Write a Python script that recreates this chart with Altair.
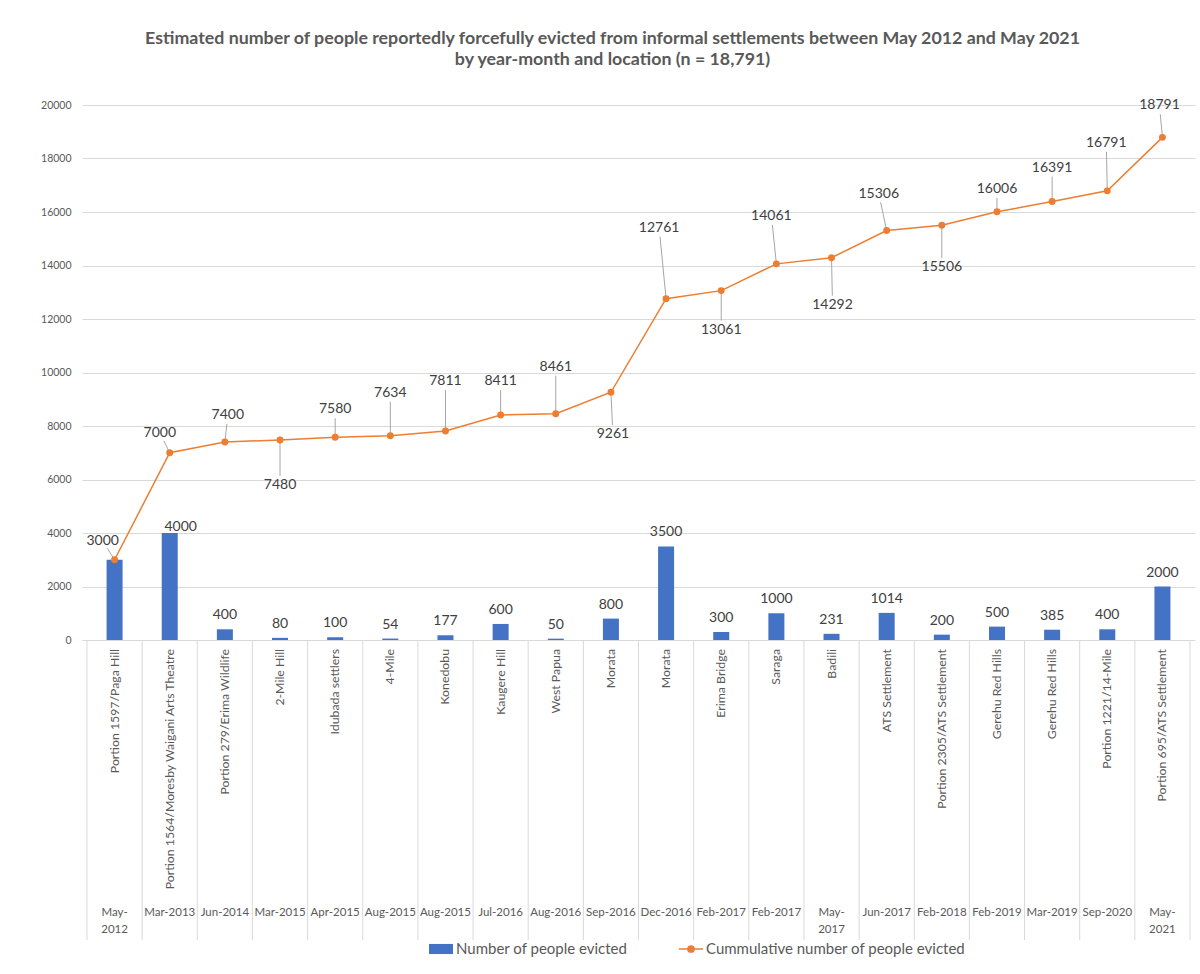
import altair as alt
import pandas as pd

# ---------------- data ----------------
locations = [
    "Portion 1597/Paga Hill", "Portion 1564/Moresby Waigani Arts Theatre",
    "Portion 279/Erima Wildlife", "2-Mile Hill", "Idubada settlers", "4-Mile",
    "Konedobu", "Kaugere Hill", "West Papua", "Morata", "Morata", "Erima Bridge",
    "Saraga", "Badili", "ATS Settlement", "Portion 2305/ATS Settlement",
    "Gerehu Red Hills", "Gerehu Red Hills", "Portion 1221/14-Mile",
    "Portion 695/ATS Settlement",
]
dates = [
    "May-2012", "Mar-2013", "Jun-2014", "Mar-2015", "Apr-2015", "Aug-2015",
    "Aug-2015", "Jul-2016", "Aug-2016", "Sep-2016", "Dec-2016", "Feb-2017",
    "Feb-2017", "May-2017", "Jun-2017", "Feb-2018", "Feb-2019", "Mar-2019",
    "Sep-2020", "May-2021",
]
evicted = [3000, 4000, 400, 80, 100, 54, 177, 600, 50, 800, 3500, 300, 1000,
           231, 1014, 200, 500, 385, 400, 2000]
cumulative = [3000, 7000, 7400, 7480, 7580, 7634, 7811, 8411, 8461, 9261,
              12761, 13061, 14061, 14292, 15306, 15506, 16006, 16391, 16791,
              18791]
y_ticks = [0, 2000, 4000, 6000, 8000, 10000, 12000, 14000, 16000, 18000, 20000]

series_bar = "Number of people evicted"
series_line = "Cummulative number of people evicted"
title_lines = [
    "Estimated number of people reportedly forcefully evicted from informal settlements between May 2012 and May 2021",
    "by year-month and location (n = 18,791)",
]

# ---------------- layout / style ----------------
W, H = 1113, 535
BLUE, ORANGE = "#4472C4", "#ED7D31"
GRID, TXT, LBL = "#D9D9D9", "#595959", "#404040"
FONT = "Lato"
# pixel offsets of the cumulative data labels from their points
cum_label_dx = [-12, -10, 3, 0, 0, 0, 0, 0, 0, 2, -7, 0, -5, 1, -8, 0, 0, 0, -1, -3]
cum_label_dy = [-19, -20, -27, 45, -28, -43, -50, -34, -47, 42, -71, 39, -48, 47,
                -37, 42, -23, -34, -48, -32]
bar_label_dx = [0, 11] + [0] * 18
bar_label_dy = [0, 8] + [0] * 18
wrapped_dates = {0, 13, 19}

px_x = W / 20.0          # pixels per category
px_y = H / 20000.0       # pixels per person

rows = []
for i in range(len(locations)):
    lx = i + cum_label_dx[i] / px_x
    ly = cumulative[i] - cum_label_dy[i] / px_y
    dist = (cum_label_dx[i] ** 2 + cum_label_dy[i] ** 2) ** 0.5
    frac = max(0.0, 1 - 9.0 / dist) if dist > 0 else 0
    rows.append({
        "pos": i,
        "location": locations[i],
        "date": dates[i].replace("-", "-\n") if i in wrapped_dates else dates[i],
        "evicted": evicted[i],
        "cumulative": cumulative[i],
        "label_x": lx,
        "label_y": ly,
        "lead_x": i + (lx - i) * frac,
        "lead_y": cumulative[i] + (ly - cumulative[i]) * frac,
        "bar_lx": i + bar_label_dx[i] / px_x,
        "bar_ly": evicted[i] - bar_label_dy[i] / px_y,
        "s_bar": series_bar,
        "s_line": series_line,
    })
df = pd.DataFrame(rows)
sep = pd.DataFrame({"edge": [i - 0.5 for i in range(len(locations) + 1)]})

xs = alt.Scale(domain=[-0.5, len(locations) - 0.5], nice=False, zero=False)
ys = alt.Scale(domain=[0, 20000], nice=False)
X = lambda f: alt.X(f, type="quantitative", scale=xs, axis=None)

base = alt.Chart(df)

bars = base.mark_bar(size=16).encode(
    x=X("pos"),
    y=alt.Y("evicted:Q", scale=ys, title=None,
            axis=alt.Axis(values=y_ticks, format="d", grid=True, gridColor=GRID,
                          domain=False, ticks=False, labelPadding=11,
                          labelFontSize=10.5, labelColor=TXT, labelFont=FONT)),
    fill=alt.Fill("s_bar:N", scale=alt.Scale(domain=[series_bar], range=[BLUE]),
                  legend=alt.Legend(title=None, orient="none", legendX=346, legendY=831,
                                    symbolType="M-1,-0.42H1V0.42H-1Z", symbolSize=576,
                                    labelFontSize=15, labelColor=TXT, labelFont=FONT,
                                    labelOffset=2, labelLimit=0)),
)

bar_labels = base.transform_filter("datum.pos > 0").mark_text(
    baseline="alphabetic", dy=-10, fontSize=14, font=FONT, color=LBL
).encode(x=X("bar_lx"), y=alt.Y("bar_ly:Q", scale=ys), text="evicted:Q")

line = base.mark_line(strokeWidth=1.5).encode(
    x=X("pos"),
    y=alt.Y("cumulative:Q", scale=ys),
    stroke=alt.Stroke("s_line:N", scale=alt.Scale(domain=[series_line], range=[ORANGE]),
                      legend=alt.Legend(title=None, orient="none", legendX=596, legendY=831,
                                        symbolType="M-1,0H1M0.26,0A0.26,0.26 0 1,1 -0.26,0A0.26,0.26 0 1,1 0.26,0",
                                        symbolSize=576, symbolFillColor=ORANGE,
                                        symbolStrokeWidth=1.5,
                                        labelFontSize=15, labelColor=TXT, labelFont=FONT,
                                        labelOffset=2, labelLimit=0)),
)
points = base.mark_circle(size=48, opacity=1, color=ORANGE).encode(
    x=X("pos"), y=alt.Y("cumulative:Q", scale=ys))

leaders = base.mark_rule(color="#A6A6A6", strokeWidth=1).encode(
    x=X("pos"), y=alt.Y("cumulative:Q", scale=ys),
    x2="lead_x:Q", y2="lead_y:Q")

cum_labels = base.mark_text(baseline="middle", fontSize=14, font=FONT, color=LBL).encode(
    x=X("label_x"), y=alt.Y("label_y:Q", scale=ys), text="cumulative:Q")

separators = alt.Chart(sep).mark_rule(color=GRID, strokeWidth=1).encode(
    x=X("edge"), y=alt.value(H), y2=alt.value(H + 300))

loc_labels = base.mark_text(angle=270, align="right", baseline="middle",
                            fontSize=12.3, font=FONT, color=TXT).encode(
    x=X("pos"), y=alt.value(H + 9), text="location:N")

date_labels = base.mark_text(baseline="top", align="center", lineBreak="\n",
                             lineHeight=17, fontSize=11.5, font=FONT, color=TXT).encode(
    x=X("pos"), y=alt.value(H + 267), text="date:N")

chart = alt.layer(
    separators, bars, bar_labels, leaders, line, points, cum_labels,
    loc_labels, date_labels,
).resolve_scale(fill="independent", stroke="independent").properties(
    width=W, height=H,
    title=alt.TitleParams(text=title_lines, fontSize=17.8, font=FONT, fontWeight="bold",
                          color=TXT, anchor="middle", dx=-26, offset=30, lineHeight=21),
    autosize=alt.AutoSizeParams(type="none"),
    padding={"left": 82, "top": 105, "right": 5, "bottom": 334},
    background="white",
).configure_view(stroke=None)

chart.save("out.html", embed_options={"renderer": "svg", "actions": False})
